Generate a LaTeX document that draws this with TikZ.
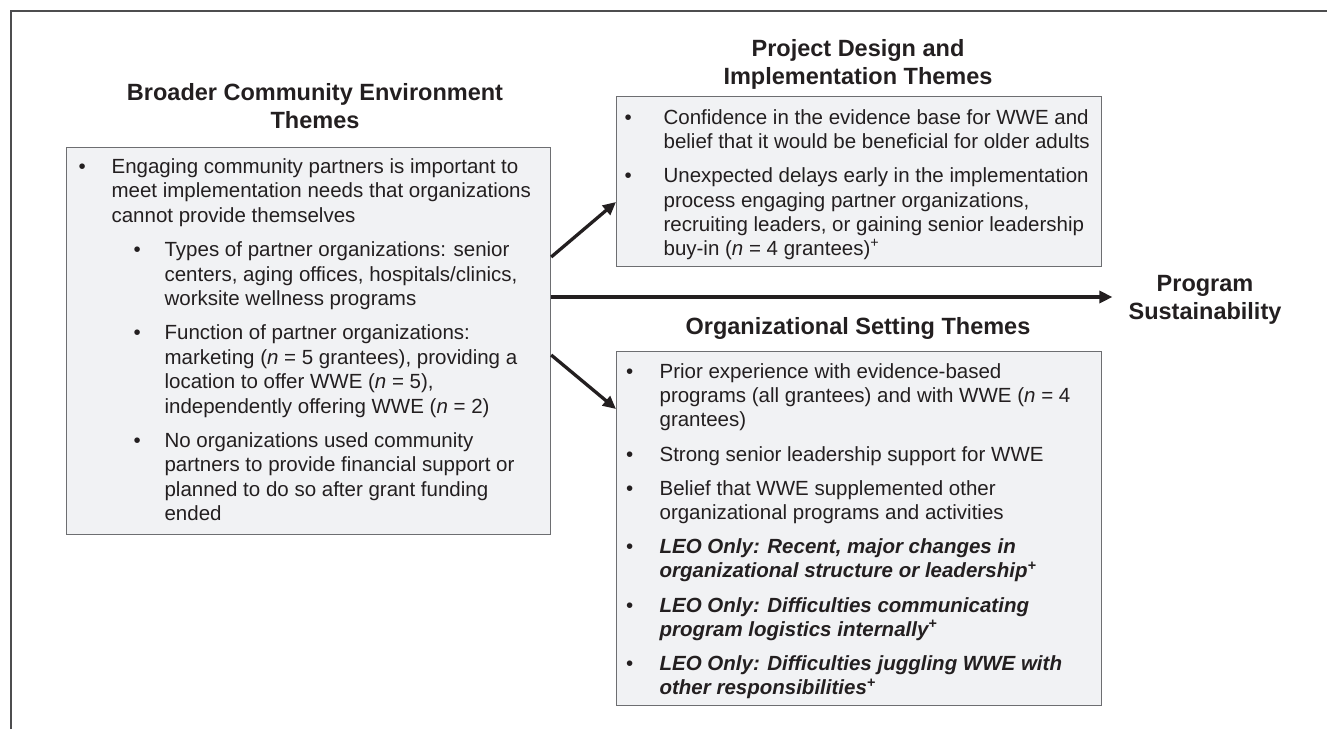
\documentclass[tikz,border=0pt]{standalone}
\usepackage{fontspec}
\setmainfont{Liberation Sans}
\usetikzlibrary{arrows.meta}
\definecolor{ink}{HTML}{231F20}
\definecolor{boxfill}{HTML}{F1F2F4}
\definecolor{boxline}{HTML}{6D6E71}
\definecolor{framecol}{HTML}{4D4D4F}
% #1 bullet offset, #2 text offset, #3 text
\newcommand{\bitem}[3]{\par\leftskip=#2pt\relax\noindent\llap{\makebox[\dimexpr#2pt-#1pt\relax][l]{\textbullet}}#3\par}
\newcommand{\gapp}[1]{\vspace{#1pt}}
% #1 width, #2 height, #3 line skip, #4 top pad, #5 text
\newcommand{\boxtext}[5]{\begin{minipage}[c][#2pt][t]{#1pt}\raggedright\fontsize{20.5}{#3}\selectfont\color{ink}\setlength{\parskip}{0pt}\vspace*{#4pt}#5\end{minipage}}
\newcommand{\nn}{\textit{n}}
\tikzset{
  themebox/.style={draw=boxline, fill=boxfill, line width=1.2pt, inner sep=0pt},
  ttl/.style={font=\fontsize{23.5}{28}\selectfont\bfseries, text=ink, align=center, inner sep=0pt, anchor=north},
  arr/.style={draw=ink, line width=3.3pt, -{Triangle[length=13pt,width=12pt]}},
}
\begin{document}
\begin{tikzpicture}[x=1pt,y=-1pt]
\useasboundingbox (0,0) rectangle (1327,729);
\draw[framecol, line width=1.6pt] (11,729) -- (11,11) -- (1327,11);

\node[ttl] (t1) at (315,83) {Broader Community Environment\\Themes};
\node[ttl] (t2) at (858,39) {Project Design and\\Implementation Themes};
\node[ttl] (t3) at (858,317) {Organizational Setting Themes};
\node[ttl, inner xsep=16pt] (ps) at (1205,275) {Program\\Sustainability};

\node[themebox, anchor=north west] (L) at (66,147) {\boxtext{484}{387}{24.4}{11}{%
\bitem{12}{45}{Engaging community partners is important to\\meet implementation needs that organizations\\cannot provide themselves}\gapp{10}
\bitem{67}{98}{Types of partner organizations: senior\\centers, aging offices, hospitals/clinics,\\worksite wellness programs}\gapp{10}
\bitem{67}{98}{Function of partner organizations:\\marketing (\nn{} = 5 grantees), providing a\\location to offer WWE (\nn{} = 5),\\independently offering WWE (\nn{} = 2)}\gapp{10}
\bitem{67}{98}{No organizations used community\\partners to provide financial support or\\planned to do so after grant funding\\ended}}};

\node[themebox, anchor=north west] (T) at (616,96) {\boxtext{485}{170}{24.2}{13}{%
\bitem{8}{47}{Confidence in the evidence base for WWE and\\belief that it would be beneficial for older adults}\gapp{10}
\bitem{8}{47}{Unexpected delays early in the implementation\\process engaging partner organizations,\\recruiting leaders, or gaining senior leadership\\buy-in (\nn{} = 4 grantees)\textsuperscript{+}}}};

\node[themebox, anchor=north west] (B) at (616,351) {\boxtext{485}{354}{24.2}{12}{%
\bitem{9.5}{43}{Prior experience with evidence-based\\programs (all grantees) and with WWE (\nn{} = 4\\grantees)}\gapp{10}
\bitem{9.5}{43}{Strong senior leadership support for WWE}\gapp{10}
\bitem{9.5}{43}{Belief that WWE supplemented other\\organizational programs and activities}\gapp{10}
\bitem{9.5}{43}{\textbf{\textit{LEO Only: Recent, major changes in\\organizational structure or leadership\textsuperscript{+}}}}\gapp{10}
\bitem{9.5}{43}{\textbf{\textit{LEO Only: Difficulties communicating\\program logistics internally\textsuperscript{+}}}}\gapp{10}
\bitem{9.5}{43}{\textbf{\textit{LEO Only: Difficulties juggling WWE with\\other responsibilities\textsuperscript{+}}}}}};

\coordinate (ya) at (0,257);
\coordinate (yb) at (0,202);
\coordinate (yc) at (0,297);
\coordinate (yd) at (0,355);
\coordinate (ye) at (0,409);
\draw[arr] (L.east |- ya) -- (T.west |- yb);
\draw[arr] (L.east |- yc) -- (ps.west |- yc);
\draw[arr] (L.east |- yd) -- (B.west |- ye);
\end{tikzpicture}
\end{document}
